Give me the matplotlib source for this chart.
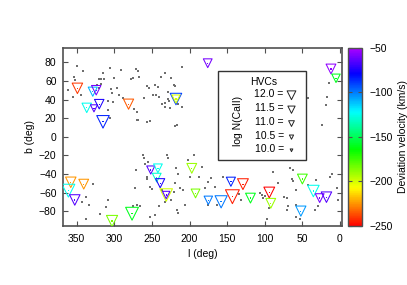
import numpy as np
import matplotlib
matplotlib.use("Agg")
import matplotlib.pyplot as plt
from matplotlib.colors import LinearSegmentedColormap, Normalize, hsv_to_rgb
from matplotlib.patches import Rectangle
from matplotlib.cm import ScalarMappable

plt.rcParams["font.family"] = ["Liberation Sans", "DejaVu Sans"]
plt.rcParams["font.size"] = 7.5

# HVCs: galactic longitude, latitude, deviation velocity, log N(CaII)
hvc_l = [349, 328.6, 324, 336.6, 327, 320, 315, 281, 175.8, 218, 218, 12, 5.3,
         357.8, 340.6, 361, 352.5, 303, 276.4, 251.5, 242, 243.6, 239, 231, 231,
         197, 192, 175, 158, 145, 129, 143, 119, 94, 92, 50, 35.4, 27, 18, 52]
hvc_b = [52, 48.4, 50, 31, 30.5, 35, 16, 35, 79, 40.5, 40.5, 72.8, 62.8,
         -49, -51, -58, -68, -90.6, -82.8, -35.8, -34, -44, -50, -62.7, -62.7,
         -34, -61, -68.4, -70, -48.4, -51, -64.5, -66, -60, -71.6, -45.5, -58.4, -66, -65, -80]
hvc_v = [-240, -110, -60, -125, -65, -75, -85, -235, -60, -90, -200, -55, -160,
         -225, -225, -125, -65, -185, -160, -65, -125, -130, -75, -200, -65,
         -190, -185, -100, -100, -85, -245, -245, -160, -250, -190, -175, -125, -60, -65, -105]
hvc_logn = [12.2, 11.8, 11.9, 11.9, 11.2, 11.9, 12.8, 12.1, 11.7, 12.5, 11.5, 12.0, 11.6,
            12.2, 12.0, 12.9, 12.2, 12.4, 12.9, 11.5, 11.7, 11.7, 11.8, 12.8, 11.3,
            12.0, 11.7, 11.6, 12.7, 11.8, 12.3, 13.2, 12.0, 12.3, 12.0, 12.0, 12.5, 11.7, 12.2, 12.1]

# background sight lines (grey dots)
dot_l = [349, 341, 354, 352, 320, 318, 315, 306, 301, 291, 278, 275, 271, 269, 267,
         257, 254, 246, 248, 244, 294, 288, 261, 318, 320, 304, 303, 297, 308, 302,
         309, 274, 270, 269, 253, 306, 355, 344, 362, 314, 323,
         210, 238, 232, 224, 242, 228, 221, 219, 240, 237, 232, 227, 226, 210, 215,
         217, 233, 229, 219, 270, 257,
         43, 17, 18, 15, 24,
         328, 337, 343, 334, 337, 319, 308, 311, 272, 261, 259, 271, 270, 266, 275,
         255, 256, 252, 250, 246, 252, 257, 262, 230,
         230, 228, 202, 218, 215, 219, 213, 221, 208, 199, 187, 176, 171, 179, 166,
         175, 164, 215, 217, 241, 232, 236, 194, 184, 134, 131, 156, 206, 224,
         66, 62, 89, 82, 75, 71, 64, 63, 42, 58, 32, 13, 10, 29, 33, 4, 2,
         106, 104, 102, 100, 95, 58, 69, 71, 53, 97, 58]
dot_b = [76, 71, 64, 61, 62, 62, 69, 74, 63, 72, 62, 63, 73, 71, 64,
         54, 52, 56, 45, 45, 45, 42, 42, 57, 52, 51, 47, 52, 38, 37,
         29, 30, 27, 18, 17, 20, 43, 45, 50, 62, 56,
         75, 64, 68, 63, 53, 48, 56, 54, 43, 35, 32, 38, 31, 32, 35,
         13, 36, 41, 11, 18, 16,
         42, 43, 34, 58, 13,
         -51, -65, -70, -73, -88, -83, -68, -76, -55, -23, -29, -36, -73, -75, -74,
         -27, -43, -54, -56, -84, -86, -45, -20, -20,
         -20, -23, -25, -34, -40, -50, -55, -59, -57, -43, -43, -49, -44, -55, -54,
         -73, -73, -82, -79, -75, -70, -57, -20, -33, -62, -68, -43, -73, -68,
         -34, -36, -38, -50, -65, -66, -45, -48, -52, -57, -47, -43, -40, -75, -79, -55, -68,
         -61, -63, -66, -64, -77, -73, -75, -79, -88, -88, -86]

cbar_ticks = [-250, -200, -150, -100, -50]
legend_logn = [12.0, 11.5, 11.0, 10.5, 10.0]

hues = np.linspace(0.0, 0.78, 64)
cmap = LinearSegmentedColormap.from_list(
    "dev", hsv_to_rgb(np.column_stack([hues, np.ones_like(hues), np.ones_like(hues)])))
norm = Normalize(vmin=-250, vmax=-50)


def marker_size(logn):
    width_px = 3.0 + 3.4 * (np.asarray(logn) - 10.0)
    return width_px * 0.72


fig = plt.figure(figsize=(4.07, 2.85), dpi=100)
ax = fig.add_axes([0.156, 0.207, 0.684, 0.625])
cax = fig.add_axes([0.856, 0.207, 0.0344, 0.625])

frame_col = "#505050"

ax.scatter(dot_l, dot_b, s=0.75, marker="s", color="#6e6e6e", linewidths=0, zorder=1)

cols = cmap(norm(np.array(hvc_v)))
ms = marker_size(hvc_logn)
ax.scatter(hvc_l, hvc_b, s=ms ** 2, marker="v", facecolors="none",
           edgecolors=cols, linewidths=0.75, zorder=3)
ax.scatter(hvc_l, hvc_b, s=0.8, marker="s", color=cols, linewidths=0, zorder=3)

ax.set_xlim(367.5, -2.5)
ax.set_ylim(-96, 95.5)
ax.set_xticks([350, 300, 250, 200, 150, 100, 50, 0])
ax.set_yticks([-80, -60, -40, -20, 0, 20, 40, 60, 80])
ax.tick_params(direction="in", top=True, right=True, length=3.5, width=0.8,
               color=frame_col, labelsize=7.5)
ax.tick_params(axis="x", pad=6)
ax.tick_params(axis="y", pad=5)
for sp in ax.spines.values():
    sp.set_color(frame_col)
    sp.set_linewidth(1.2)
ax.set_xlabel("l (deg)", fontsize=7.5, labelpad=3)
ax.set_ylabel("b (deg)", fontsize=7.5, labelpad=3)

# legend box for marker sizes
ax.add_patch(Rectangle((0.556, 0.371), 0.315, 0.497, transform=ax.transAxes,
                       facecolor="white", edgecolor="#333333", linewidth=1.0, zorder=4))
ax.text(0.718, 0.807, "HVCs", transform=ax.transAxes, ha="center", va="center", zorder=5)
ax.text(0.628, 0.588, "log N(CaII)", transform=ax.transAxes, ha="center", va="center",
        rotation=90, zorder=5)
row_y = [0.742, 0.661, 0.583, 0.507, 0.433]
for val, yy in zip(legend_logn, row_y):
    ax.text(0.791, yy, f"{val:.1f} =", transform=ax.transAxes, ha="right", va="center",
            zorder=5)
ax.scatter([0.819] * len(legend_logn), [y - 0.008 for y in row_y],
           s=marker_size(legend_logn) ** 2 * 0.8, marker="v", facecolors="none",
           edgecolors="#222222", linewidths=0.7, transform=ax.transAxes, zorder=5)

sm = ScalarMappable(norm=norm, cmap=cmap)
cb = fig.colorbar(sm, cax=cax, ticks=cbar_ticks)
cb.outline.set_edgecolor(frame_col)
cb.outline.set_linewidth(1.0)
cax.tick_params(direction="in", length=3, width=0.8, color=frame_col, labelsize=7.5,
                pad=5, left=True)
cb.set_label("Deviation velocity (km/s)", fontsize=7.5, labelpad=4)

fig.savefig("out.png", dpi=100)
